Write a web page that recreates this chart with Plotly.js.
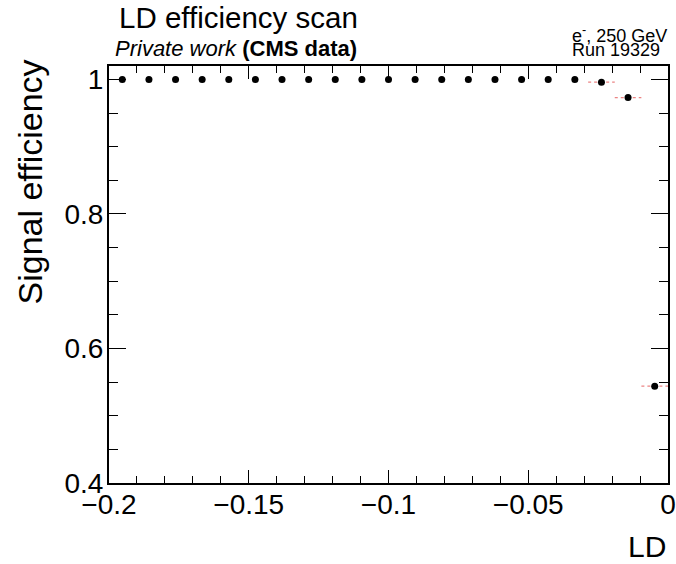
<!DOCTYPE html>
<html>
<head>
<meta charset="utf-8">
<script src="https://cdn.plot.ly/plotly-3.0.1.min.js"></script>
<style>html,body{margin:0;padding:0;background:#fff;}#chart{width:676px;height:564px;}</style>
</head>
<body>
<div id="chart"></div>
<script>
// Bin centres of the LD scan (21 bins between -0.2 and 0)
const ldValues = [-0.19524, -0.18571, -0.17619, -0.16667, -0.15714, -0.14762, -0.13810,
  -0.12857, -0.11905, -0.10952, -0.10000, -0.09048, -0.08095, -0.07143, -0.06190,
  -0.05238, -0.04286, -0.03333, -0.02381, -0.01429, -0.00476];
// Signal efficiency in each bin
const efficiency = [1, 1, 1, 1, 1, 1, 1, 1, 1, 1, 1, 1, 1, 1, 1, 1, 1, 1, 0.996, 0.973, 0.544];
// Horizontal error (half bin width), drawn only where visible
const xError = [0, 0, 0, 0, 0, 0, 0, 0, 0, 0, 0, 0, 0, 0, 0, 0, 0, 0, 0.00476, 0.00476, 0.00476];
const xTickVals = [-0.2, -0.15, -0.1, -0.05, 0];
const xTickText = ['\u22120.2', '\u22120.15', '\u22120.1', '\u22120.05', '0'];
const yTickVals = [0.4, 0.6, 0.8, 1];
const yTickText = ['0.4', '0.6', '0.8', '1'];

const FONT = 'Liberation Sans, Arial, Helvetica, sans-serif';

// error segments built from the data arrays
const ex = [], ey = [];
for (let i = 0; i < ldValues.length; i++) {
  if (xError[i] > 0) {
    ex.push(ldValues[i] - xError[i], ldValues[i] + xError[i], null);
    ey.push(efficiency[i], efficiency[i], null);
  }
}

const traces = [
  {x: ex, y: ey, type: 'scatter', mode: 'lines', hoverinfo: 'skip',
   line: {color: 'rgba(232,110,110,0.85)', width: 1.3, dash: 'dot'}, showlegend: false},
  {x: ldValues, y: efficiency, type: 'scatter', mode: 'markers',
   marker: {color: '#000', size: 7}, showlegend: false}
];

const L = 109, T = 66, W = 559, H = 417;
const px = v => (v - L) / W;          // pixel x -> paper x
const py = v => 1 + (T - v) / H;      // pixel y -> paper y

const layout = {
  width: 676, height: 564,
  margin: {l: L, r: 8, t: T, b: 81, pad: 0},
  paper_bgcolor: '#fff', plot_bgcolor: '#fff',
  font: {family: FONT, color: '#000'},
  xaxis: {
    range: [-0.2, 0], tickmode: 'array', tickvals: xTickVals, ticktext: xTickText,
    ticks: 'inside', ticklen: 13, tickwidth: 1, tickcolor: '#000',
    minor: {dtick: 0.01, ticks: 'inside', ticklen: 7, tickcolor: '#000', tickwidth: 1, showgrid: false},
    showline: true, linecolor: '#000', linewidth: 2, mirror: 'allticks',
    showgrid: false, zeroline: false, tickfont: {size: 28, family: FONT}, ticklabelstandoff: -5
  },
  yaxis: {
    range: [0.4, 1.02], tickmode: 'array', tickvals: yTickVals, ticktext: yTickText,
    ticks: 'inside', ticklen: 17, tickwidth: 1, tickcolor: '#000',
    minor: {dtick: 0.05, ticks: 'inside', ticklen: 9, tickcolor: '#000', tickwidth: 1, showgrid: false},
    showline: true, linecolor: '#000', linewidth: 2, mirror: 'allticks',
    showgrid: false, zeroline: false, tickfont: {size: 28, family: FONT}, ticklabelstandoff: -2
  },
  annotations: [
    {text: 'LD efficiency scan', xref: 'paper', yref: 'paper', x: px(117), y: py(-1),
     xanchor: 'left', yanchor: 'top', showarrow: false, font: {size: 29.5, family: FONT}},
    {text: '<i>Private work</i> <b>(CMS data)</b>', xref: 'paper', yref: 'paper', x: px(113), y: py(34),
     xanchor: 'left', yanchor: 'top', showarrow: false, font: {size: 22, family: FONT}},
    {text: 'e<sup>-</sup>, 250 GeV', xref: 'paper', yref: 'paper', x: px(570), y: py(21),
     xanchor: 'left', yanchor: 'top', showarrow: false, font: {size: 18, family: FONT}},
    {text: 'Run 19329', xref: 'paper', yref: 'paper', x: px(570), y: py(38),
     xanchor: 'left', yanchor: 'top', showarrow: false, font: {size: 18, family: FONT}},
    {text: 'Signal efficiency', xref: 'paper', yref: 'paper', x: px(9), y: py(58),
     xanchor: 'left', yanchor: 'top', textangle: -90, showarrow: false, font: {size: 34, family: FONT}},
    {text: 'LD', xref: 'paper', yref: 'paper', x: 1, y: py(528),
     xanchor: 'right', yanchor: 'top', showarrow: false, font: {size: 30, family: FONT}}
  ]
};

Plotly.newPlot('chart', traces, layout, {displayModeBar: false, staticPlot: true});
</script>
</body>
</html>
